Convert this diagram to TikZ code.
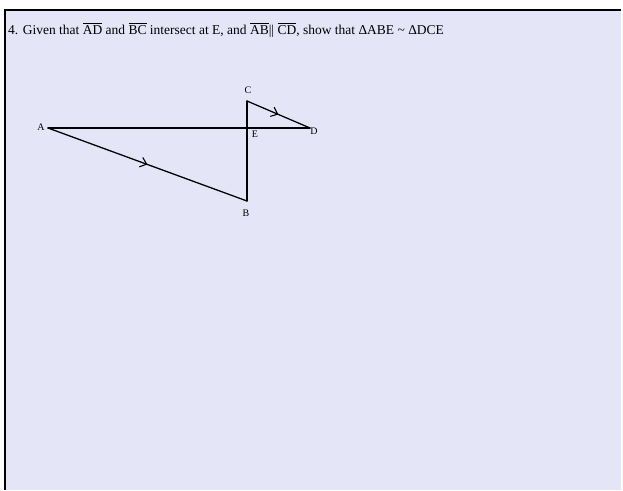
\documentclass[tikz,border=0pt]{standalone}
\usepackage{fontspec}
\setmainfont{Liberation Serif}
\usetikzlibrary{arrows.meta,decorations.markings}
\definecolor{lav}{RGB}{228,230,248}
\tikzset{
  seg/.style={line width=1.3pt,line cap=round},
  par/.style={seg,postaction={decorate},decoration={markings,
    mark=at position 0.5 with {\arrow{Straight Barb[length=6pt,width=10pt,line width=1.1pt]}}}},
  pt/.style={font=\fontsize{10}{11}\selectfont,inner sep=0pt},
}
\begin{document}
\begin{tikzpicture}[x=1pt,y=-1pt]
  \useasboundingbox (0,0) rectangle (623,490);
  % panel
  \fill[lav] (5,10) rectangle (621,490);
  \draw[line width=2pt] (5,490) -- (5,10) -- (621,10);
  \node[anchor=base west,inner sep=0pt,font=\fontsize{13.5}{15}\selectfont] (q) at (8,34)
    {4. Given that $\overline{\hbox{AD}}$ and $\overline{\hbox{BC}}$ intersect at E, and $\overline{\hbox{AB}}$|| $\overline{\hbox{CD}}$, show that ΔABE \textasciitilde{} ΔDCE};
  % points
  \coordinate (A) at (48,128);
  \coordinate (B) at (247,201);
  \coordinate (C) at (247,101);
  \coordinate (D) at (310,128);
  \coordinate (E) at (247,128);
  \foreach \p/\x/\y in {A/41/127,B/246/213,C/248/90,D/314/131,E/255/134}
    \node[pt] (l\p) at (\x,\y) {\p};
  % figure
  \draw[seg] (A) -- (D);
  \draw[seg] (C) -- (B);
  \draw[par] (A) -- (B);
  \draw[par] (C) -- (D);
\end{tikzpicture}
\end{document}
